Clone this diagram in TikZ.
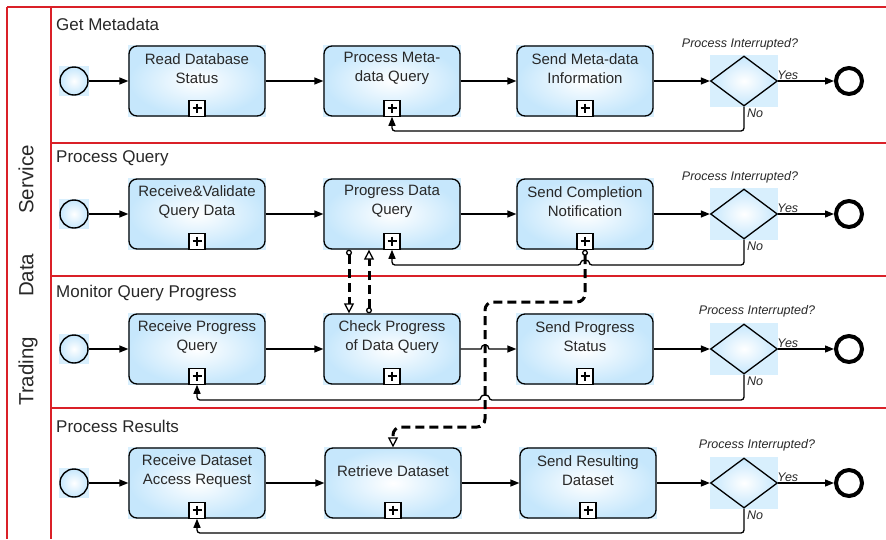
\documentclass[tikz,border=0pt]{standalone}
\usepackage{fontspec}
\setmainfont{Liberation Sans}
\usetikzlibrary{shapes.geometric,arrows.meta,backgrounds}
\definecolor{lanered}{RGB}{218,32,40}
\definecolor{taskblue}{RGB}{198,231,252}
\definecolor{bgblue}{RGB}{216,239,253}
\definecolor{txt}{RGB}{40,40,40}
\tikzset{
 task/.style={draw, line width=1.3pt, rounded corners=8pt, minimum width=136pt, minimum height=70pt, inner sep=0pt, inner color=white, outer color=taskblue},
 tasktext/.style={align=center, font=\fontsize{15}{19}\selectfont, text=txt, inner sep=0pt},
 marker/.style={draw, line width=1.2pt, fill=white, minimum size=16pt, inner sep=0pt,
   path picture={\draw[line width=2.4pt] (path picture bounding box.center) ++(-4.5,0) -- ++(9,0)
     (path picture bounding box.center) ++(0,-4.5) -- ++(0,9);}},
 startev/.style={circle, draw, line width=1.4pt, minimum size=28pt, inner sep=0pt, inner color=white, outer color=taskblue},
 endev/.style={circle, draw, line width=4pt, fill=white, minimum size=26pt, inner sep=0pt},
 gate/.style={diamond, draw, line width=1.3pt, minimum width=67pt, minimum height=50pt, inner sep=0pt, aspect=1.34, inner color=white, outer color=taskblue},
 flow/.style={line width=1.3pt, -{Triangle[length=9pt,width=7pt]}},
 msg/.style={line width=3pt, dash pattern=on 9pt off 5pt,
   {Circle[open,length=6pt,width=6pt,fill=white,line width=1.3pt]}-{Triangle[open,length=10pt,width=10pt,fill=white,line width=1.3pt]}},
 lane/.style={draw=lanered, line width=2pt},
 lanetitle/.style={anchor=west, font=\fontsize{17}{20}\selectfont, text=txt, inner sep=0pt},
 qtext/.style={font=\itshape\fontsize{12.5}{14}\selectfont, text=txt, inner sep=0pt},
}
\begin{document}
\begin{tikzpicture}[x=1pt,y=-1pt]
\useasboundingbox (0,0) rectangle (886,539);
% pool and lanes
\draw[lane] (7,7) -- (886,7);
\draw[lane] (7,7) -- (7,539);
\draw[lane] (50.5,7) -- (50.5,539);
\draw[lane] (50.5,143) -- (886,143);
\draw[lane] (50.5,276) -- (886,276);
\draw[lane, line width=1.5pt] (50.5,408) -- (886,408);
\node[rotate=90, font=\fontsize{20.5}{24}\selectfont, text=txt, inner sep=0pt] (pool) at (28,275.5) {Trading\hspace{40pt}Data\hspace{40pt}Service};
\node[lanetitle] (l1) at (56,24) {Get Metadata};
\node[lanetitle] (l2) at (56,158) {Process Query};
\node[lanetitle] (l3) at (56,293) {Monitor Query Progress};
\node[lanetitle] (l4) at (56,426) {Process Results};

% lane 1
\node[startev] (s1) at (74,81) {};
\node[task] (t11) at (197,81) {};
\node[task] (t12) at (392,81) {};
\node[task] (t13) at (585,81) {};
\node[gate] (g1) at (744,81) {};
\node[endev] (e1) at (849,81) {};
% lane 2
\node[startev] (s2) at (74,214) {};
\node[task] (t21) at (197,214) {};
\node[task] (t22) at (392,214) {};
\node[task] (t23) at (585,214) {};
\node[gate] (g2) at (744,214) {};
\node[endev] (e2) at (849,214) {};
% lane 3
\node[startev] (s3) at (74,349) {};
\node[task] (t31) at (197,349) {};
\node[task] (t32) at (392,349) {};
\node[task] (t33) at (585,349) {};
\node[gate] (g3) at (744,349) {};
\node[endev] (e3) at (849,349) {};
% lane 4
\node[startev] (s4) at (74,483) {};
\node[task] (t41) at (197,483) {};
\node[task] (t42) at (393,483) {};
\node[task] (t43) at (588,483) {};
\node[gate] (g4) at (744,483) {};
\node[endev] (e4) at (849,483) {};

% task texts
\node[tasktext] (x11) at ([yshift=-23.5pt]t11.north) {Read Database\\Status};
\node[tasktext] (x12) at ([yshift=-23.5pt]t12.north) {Process Meta-\\data Query};
\node[tasktext] (x13) at ([yshift=-23.5pt]t13.north) {Send Meta-data\\Information};
\node[tasktext] (x21) at ([yshift=-23.5pt]t21.north) {Receive\&Validate\\Query Data};
\node[tasktext] (x22) at ([yshift=-23.5pt]t22.north) {Progress Data\\Query};
\node[tasktext] (x23) at ([yshift=-23.5pt]t23.north) {Send Completion\\Notification};
\node[tasktext] (x31) at ([yshift=-23.5pt]t31.north) {Receive Progress\\Query};
\node[tasktext] (x32) at ([yshift=-23.5pt]t32.north) {Check Progress\\of Data Query};
\node[tasktext] (x33) at ([yshift=-23.5pt]t33.north) {Send Progress\\Status};
\node[tasktext] (x41) at ([yshift=-23.5pt]t41.north) {Receive Dataset\\Access Request};
\node[tasktext] (x42) at ([yshift=-23.5pt]t42.north) {Retrieve Dataset};
\node[tasktext] (x43) at ([yshift=-23.5pt]t43.north) {Send Resulting\\Dataset};

% markers
\foreach \t in {t11,t12,t13,t21,t22,t23,t31,t32,t33,t41,t42,t43}
  \node[marker] (m\t) at ([yshift=8.5pt]\t.south) {};

% backgrounds
\begin{scope}[on background layer]
\foreach \n in {t11,t12,t13,t21,t22,t23,t31,t32,t33,t41,t42,t43}
  \fill[bgblue] (\n.south west) rectangle (\n.north east);
\foreach \n in {s1,s2,s3,s4,g1,g2,g3,g4}
  \fill[bgblue] (\n.west |- \n.north) rectangle (\n.east |- \n.south);
\end{scope}

% gateway labels
\node[qtext] (q1) at (740,44) {Process Interrupted?};
\node[qtext] (q2) at (740,177) {Process Interrupted?};
\node[qtext] (q3) at (757,311) {Process Interrupted?};
\node[qtext] (q4) at (757,445) {Process Interrupted?};
\foreach \i in {1,2,3,4}{
  \node[qtext, anchor=south west] (y\i) at ([xshift=-1pt,yshift=1.5pt]g\i.east) {Yes};
  \node[qtext, anchor=north west] (n\i) at ([xshift=3pt,yshift=-2pt]g\i.south) {No};
}

% sequence flows
\draw[flow] (s1) -- (t11);
\draw[flow] (t11) -- (t12);
\draw[flow] (t12) -- (t13);
\draw[flow] (t13) -- (g1);
\draw[flow] (g1) -- (e1);
\draw[flow] (s2) -- (t21);
\draw[flow] (t21) -- (t22);
\draw[flow] (t22) -- (t23);
\draw[flow] (t23) -- (g2);
\draw[flow] (g2) -- (e2);
\draw[flow] (s3) -- (t31);
\draw[flow] (t31) -- (t32);
\draw[flow] (t32.east) -- (481,349) .. controls (481,343.5) and (489,343.5) .. (489,349) -- (t33.west);
\draw[flow] (t33) -- (g3);
\draw[flow] (g3) -- (e3);
\draw[flow] (s4) -- (t41);
\draw[flow] (t41) -- (t42);
\draw[flow] (t42) -- (t43);
\draw[flow] (t43) -- (g4);
\draw[flow] (g4) -- (e4);

% loops (No branches)
\draw[flow, rounded corners=3pt] (g1.south) -- (g1.south |- 0,131) -- (mt12.south |- 0,131) -- (mt12.south);
\draw[flow, rounded corners=3pt] (g2.south) -- (g2.south |- 0,265) -- (589,265) .. controls (589,259.5) and (581,259.5) .. (581,265) -- (mt22.south |- 0,265) -- (mt22.south);
\draw[flow, rounded corners=3pt] (g3.south) -- (g3.south |- 0,400) -- (489,400) .. controls (489,394.5) and (481,394.5) .. (481,400) -- (mt31.south |- 0,400) -- (mt31.south);
\draw[flow, rounded corners=3pt] (g4.south) -- (g4.south |- 0,533) -- (mt41.south |- 0,533) -- (mt41.south);

% message flows
\draw[msg] ([xshift=-43pt]t22.south) -- ([xshift=-43pt]t32.north);
\draw[msg] ([xshift=-23pt]t32.north) -- ([xshift=-23pt]t22.south);
\draw[msg, rounded corners=8pt] (mt23.south) -- (585,302) -- (485,302) -- (485,427) -- (t42.north |- 0,427) -- (t42.north);
\end{tikzpicture}
\end{document}
